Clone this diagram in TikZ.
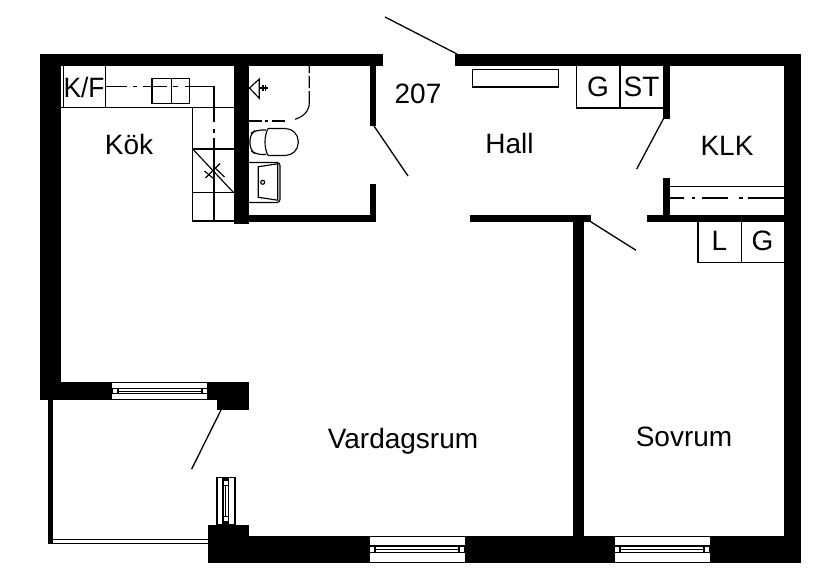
\documentclass[tikz,border=0pt]{standalone}
\usepackage{fontspec}
\setmainfont{Liberation Sans}
\tikzset{
    wall/.style={fill=black, draw=none},
    thinline/.style={draw=black, line width=1.15pt},
    cutline/.style={draw=black, line width=1.3pt},
    roomlabel/.style={font=\fontsize{28}{28}\selectfont, text=black, inner sep=0pt, anchor=base}
}
% one horizontal wall window: x0, x1, top, bottom
\newcommand{\planwindow}[4]{
    \pgfmathsetmacro{\winh}{#4-#3}
    \fill[white] (#1,#3) rectangle (#2,#4);
    \draw[black, line width=0.9pt] (#1,#3) rectangle (#2,#4);
    \fill[black] (#1,{#3+0.33*\winh}) rectangle (#2,{#3+0.67*\winh});
    \fill[white] ({#1+1},{#3+0.41*\winh}) rectangle ({#1+5},{#3+0.6*\winh});
    \fill[white] ({#2-5},{#3+0.41*\winh}) rectangle ({#2-1},{#3+0.6*\winh});
    \fill[white] ({#1+7},{#3+0.41*\winh}) rectangle ({#2-7},{#3+0.6*\winh});
    \draw[black, line width=1pt] ({#1+7},{#3+0.505*\winh}) -- ({#2-7},{#3+0.505*\winh});
}
\begin{document}
\begin{tikzpicture}[x=1pt, y=-1pt]
    \useasboundingbox (0,0) rectangle (829,570);
    % outer walls
    \fill[wall] (40,54) rectangle (383,66);
    \fill[wall] (455,54) rectangle (801,66);
    \fill[wall] (40,54) rectangle (60.5,400);
    \fill[wall] (784,54) rectangle (801,562.5);
    \fill[wall] (40,382) rectangle (249,400);
    \fill[wall] (217,382) rectangle (249,410);
    \fill[wall] (208,535.5) rectangle (801,562.5);
    \fill[wall] (208,524.5) rectangle (249,562.5);
    % inner walls
    \fill[wall] (234,54) rectangle (249,224);
    \fill[wall] (249,215) rectangle (375.5,221.7);
    \fill[wall] (369.7,54) rectangle (375.5,126);
    \fill[wall] (369.7,184) rectangle (375.5,221.7);
    \fill[wall] (469.5,215) rectangle (590.7,221.7);
    \fill[wall] (572.7,215) rectangle (584.3,540);
    \fill[wall] (646.7,215) rectangle (790,221.7);
    \fill[wall] (662.7,54) rectangle (670,119);
    \fill[wall] (662.7,177.7) rectangle (670,218);
    % balcony
    \fill[wall] (48.3,395) rectangle (52.7,544);
    \draw[thinline] (50,539.5) -- (208,539.5);
    \draw[thinline] (50,543.7) -- (208,543.7);
    % windows
    \planwindow{111.7}{207.7}{382.3}{399.7}
    \planwindow{369.3}{465}{536}{562}
    \planwindow{614.3}{710.3}{536}{562}
    % balcony door window
    \fill[white] (217,477.5) rectangle (235,524.5);
    \draw[thinline] (217,477.5) rectangle (235,524.5);
    \fill[black] (222.3,477.5) rectangle (229.3,524.5);
    \fill[white] (223.5,481) rectangle (228.2,484.5);
    \fill[white] (223.5,517) rectangle (228.2,520.5);
    \fill[white] (223.5,486) rectangle (228.2,515.5);
    \draw[black, line width=1pt] (225.9,486) -- (225.9,515.5);
    % door leaves
    \draw[cutline] (385,17) -- (457,54);
    \draw[cutline] (374,126) -- (408,176);
    \draw[cutline] (663.3,119) -- (636.7,169);
    \draw[cutline] (590.7,221.7) -- (636,250.3);
    \draw[cutline] (221,410) -- (191.7,469);
    % kitchen
    \draw[thinline] (63.3,66) -- (63.3,107.3);
    \draw[thinline] (105.3,66) -- (105.3,107.3);
    \draw[thinline] (60,107.3) -- (234,107.3);
    \draw[thinline] (192.7,107.3) -- (192.7,221) -- (234,221);
    \draw[thinline] (192.7,149) -- (234,149);
    \draw[thinline] (192.7,192.3) -- (234,192.3);
    \draw[thinline] (192.7,149) -- (233.3,192.3);
    \draw[thinline] (152,78.3) rectangle (189.3,103.3);
    \draw[thinline] (171.3,78.3) -- (171.3,103.3);
    \draw[thinline] (105.3,86.7) -- (127,86.7) (133,86.7) -- (137,86.7) (143,86.7) -- (167,86.7) (173,86.7) -- (178,86.7) (185,86.7) -- (214,86.7) -- (214,122) (214,129) -- (214,133) (214,138) -- (214,221);
    \draw[thinline] (205.5,178) -- (220,163.5);
    \draw[thinline] (204.5,171) -- (214,179);
    \draw[thinline] (213,166) -- (224.5,177);
    % bathroom
    \draw[thinline] (309.3,66) -- (309.3,73) (309.3,76) -- (309.3,88) (309.3,91) -- (309.3,103) .. controls (309.3,111) and (303,117) .. (295,119.3);
    \draw[thinline] (249,121) -- (261.7,121) (265,121) -- (268,121) (272,121) -- (285,121);
    \draw[thinline] (259.3,79) -- (249.5,88) -- (259.3,98.3) -- cycle;
    \draw[thinline] (259.3,88) -- (268,88);
    \draw[thinline] (263,85) -- (263,91);
    \draw[thinline] (265.5,85) -- (265.5,91);
    \draw[thinline, rounded corners=6pt] (266,130) -- (256,130) -- (250,134) -- (250,150) -- (256,154.5) -- (266,154.5);
    \draw[thinline, rounded corners=13pt] (268,128.5) -- (298.3,128.5) -- (298.3,155.5) -- (268,155.5);
    \draw[thinline] (268,128.5) .. controls (264,136) and (264,148) .. (268,155.5);
    \draw[thinline, rounded corners=3pt] (249,162.5) -- (280,162.5) -- (280,202.5) -- (249,202.5);
    \draw[thinline] (258.3,166.7) -- (277.7,163.8) -- (277.7,200.2) -- (258.3,197.3) -- cycle;
    \draw[thinline] (262.7,182.3) circle (2pt);
    % hall
    \draw[thinline] (472.7,69.3) rectangle (558.3,87);
    \draw[thinline] (576.7,66) -- (576.7,108) -- (662.7,108);
    \draw[thinline] (620,66) -- (620,108);
    % klk
    \draw[thinline] (670,186.7) -- (784,186.7);
    \draw[thinline] (670,198) -- (684,198) (692,198) -- (695,198) (702,198) -- (728,198) (739,198) -- (743,198) (748,198) -- (784,198);
    \draw[thinline] (698,221) -- (698,262.7) -- (784,262.7);
    \draw[thinline] (741.3,221) -- (741.3,262.7);
    % labels
    \node[roomlabel, xscale=0.94] (kf) at (84,97.3) {K/F};
    \node[roomlabel] (kok) at (129,154) {Kök};
    \node[roomlabel] (nr) at (418,103) {207};
    \node[roomlabel] (hall) at (509.5,153.3) {Hall};
    \node[roomlabel] (g1) at (598,96.7) {G};
    \node[roomlabel] (st) at (641.5,96.7) {ST};
    \node[roomlabel] (klk) at (727,155) {KLK};
    \node[roomlabel] (l) at (719.5,250.7) {L};
    \node[roomlabel] (g2) at (762.5,250.7) {G};
    \node[roomlabel] (vardagsrum) at (403,448.3) {Vardagsrum};
    \node[roomlabel] (sovrum) at (684,446.7) {Sovrum};
\end{tikzpicture}
\end{document}
